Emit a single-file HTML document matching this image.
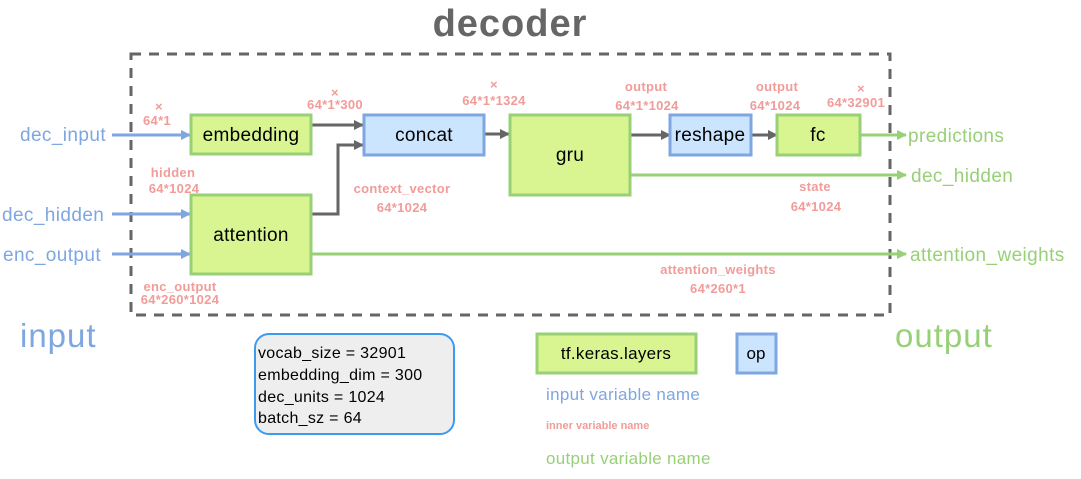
<!DOCTYPE html>
<html><head><meta charset="utf-8"><style>
html,body{margin:0;padding:0;background:#fff;}
svg{display:block;font-family:"Liberation Sans",sans-serif;}
.pk{fill:#f19c99;font-weight:bold;font-size:13px;text-anchor:middle;letter-spacing:0.3px;}
.bl{fill:#7ea6e0;font-size:19px;letter-spacing:0.4px;}
.gr{fill:#97d077;font-size:19px;letter-spacing:0.4px;}
.nd{font-size:19px;fill:#000;text-anchor:middle;letter-spacing:0.3px;}
</style></head><body>
<svg width="1081" height="479" viewBox="0 0 1081 479" xmlns="http://www.w3.org/2000/svg">
<defs>
<marker id="ag" markerWidth="10" markerHeight="10" refX="9" refY="5" orient="auto" markerUnits="userSpaceOnUse"><path d="M0,0 L10,5 L0,10 Z" fill="#666"/></marker>
<marker id="ab" markerWidth="10" markerHeight="10" refX="9" refY="5" orient="auto" markerUnits="userSpaceOnUse"><path d="M0,0 L10,5 L0,10 Z" fill="#7ea6e0"/></marker>
<marker id="an" markerWidth="10" markerHeight="10" refX="9" refY="5" orient="auto" markerUnits="userSpaceOnUse"><path d="M0,0 L10,5 L0,10 Z" fill="#97d077"/></marker>
</defs>
<text x="510" y="36" text-anchor="middle" font-size="38" font-weight="bold" fill="#666" letter-spacing="1">decoder</text>
<rect x="131" y="54" width="759" height="261" fill="none" stroke="#666" stroke-width="3" stroke-dasharray="10,8"/>

<line x1="112" y1="135" x2="190" y2="135" stroke="#7ea6e0" stroke-width="3" marker-end="url(#ab)"/>
<line x1="112" y1="214" x2="190" y2="214" stroke="#7ea6e0" stroke-width="3" marker-end="url(#ab)"/>
<line x1="112" y1="254" x2="190" y2="254" stroke="#7ea6e0" stroke-width="3" marker-end="url(#ab)"/>
<text x="20" y="141" class="bl">dec_input</text>
<text x="2" y="221" class="bl">dec_hidden</text>
<text x="3" y="261" class="bl">enc_output</text>

<line x1="311" y1="125" x2="363" y2="125" stroke="#666" stroke-width="3" marker-end="url(#ag)"/>
<polyline points="311,214 338,214 338,145 363,145" fill="none" stroke="#666" stroke-width="3" marker-end="url(#ag)"/>
<line x1="484" y1="134" x2="509" y2="134" stroke="#666" stroke-width="3" marker-end="url(#ag)"/>
<line x1="630" y1="135" x2="670" y2="135" stroke="#666" stroke-width="3" marker-end="url(#ag)"/>
<line x1="751" y1="135" x2="777" y2="135" stroke="#666" stroke-width="3" marker-end="url(#ag)"/>

<line x1="860" y1="135" x2="906" y2="135" stroke="#97d077" stroke-width="3" marker-end="url(#an)"/>
<line x1="630" y1="175" x2="906" y2="175" stroke="#97d077" stroke-width="3" marker-end="url(#an)"/>
<line x1="311" y1="254" x2="906" y2="254" stroke="#97d077" stroke-width="3" marker-end="url(#an)"/>
<text x="908" y="142" class="gr">predictions</text>
<text x="911" y="182" class="gr">dec_hidden</text>
<text x="910" y="261" class="gr">attention_weights</text>

<rect x="191" y="115" width="120" height="39" fill="#d9f592" stroke="#97d077" stroke-width="3"/>
<text x="251" y="141" class="nd">embedding</text>
<rect x="364" y="115" width="120" height="40" fill="#cce5ff" stroke="#7ea6e0" stroke-width="3"/>
<text x="424" y="141" class="nd">concat</text>
<rect x="510" y="115" width="120" height="80" fill="#d9f592" stroke="#97d077" stroke-width="3"/>
<text x="570" y="161" class="nd">gru</text>
<rect x="670" y="115" width="81" height="40" fill="#cce5ff" stroke="#7ea6e0" stroke-width="3"/>
<text x="710" y="141" class="nd">reshape</text>
<rect x="777" y="115" width="83" height="40" fill="#d9f592" stroke="#97d077" stroke-width="3"/>
<text x="818" y="141" class="nd">fc</text>
<rect x="191" y="195" width="120" height="79" fill="#d9f592" stroke="#97d077" stroke-width="3"/>
<text x="251" y="241" class="nd">attention</text>

<text x="159" y="111" class="pk">×</text><text x="157" y="125" class="pk">64*1</text>
<text x="335" y="97" class="pk">×</text><text x="335" y="109" class="pk">64*1*300</text>
<text x="494" y="89" class="pk">×</text><text x="494" y="105" class="pk">64*1*1324</text>
<text x="646" y="91" class="pk">output</text><text x="647" y="110" class="pk">64*1*1024</text>
<text x="777" y="91" class="pk">output</text><text x="775" y="110" class="pk">64*1024</text>
<text x="861" y="93" class="pk">×</text><text x="856" y="107" class="pk">64*32901</text>
<text x="173" y="177" class="pk">hidden</text><text x="174" y="193" class="pk">64*1024</text>
<text x="402" y="193" class="pk">context_vector</text><text x="402" y="212" class="pk">64*1024</text>
<text x="180" y="291" class="pk">enc_output</text><text x="180" y="304" class="pk">64*260*1024</text>
<text x="815" y="191" class="pk">state</text><text x="816" y="211" class="pk">64*1024</text>
<text x="718" y="274" class="pk">attention_weights</text><text x="718" y="293" class="pk">64*260*1</text>

<text x="20" y="347" font-size="33" fill="#7ea6e0" letter-spacing="1">input</text>
<text x="895" y="347" font-size="33" fill="#97d077" letter-spacing="1">output</text>

<rect x="255" y="334" width="199" height="100" rx="14" fill="#eeeeee" stroke="#3c9af0" stroke-width="2"/>
<text x="258" y="358" font-size="16" letter-spacing="0.3">vocab_size = 32901</text>
<text x="258" y="380" font-size="16" letter-spacing="0.3">embedding_dim = 300</text>
<text x="258" y="402" font-size="16" letter-spacing="0.3">dec_units = 1024</text>
<text x="258" y="423" font-size="16" letter-spacing="0.3">batch_sz = 64</text>
<rect x="537" y="334" width="159" height="39" fill="#d9f592" stroke="#97d077" stroke-width="3"/>
<text x="616" y="359" font-size="17" text-anchor="middle" letter-spacing="0.3">tf.keras.layers</text>
<rect x="737" y="334" width="39" height="39" fill="#cce5ff" stroke="#7ea6e0" stroke-width="3"/>
<text x="756" y="359" font-size="17" text-anchor="middle">op</text>
<text x="546" y="400" font-size="17" fill="#7ea6e0" letter-spacing="0.3">input variable name</text>
<text x="546" y="429" font-size="11" font-weight="bold" fill="#f19c99">inner variable name</text>
<text x="546" y="464" font-size="17" fill="#97d077" letter-spacing="0.3">output variable name</text>
</svg>
</body></html>
